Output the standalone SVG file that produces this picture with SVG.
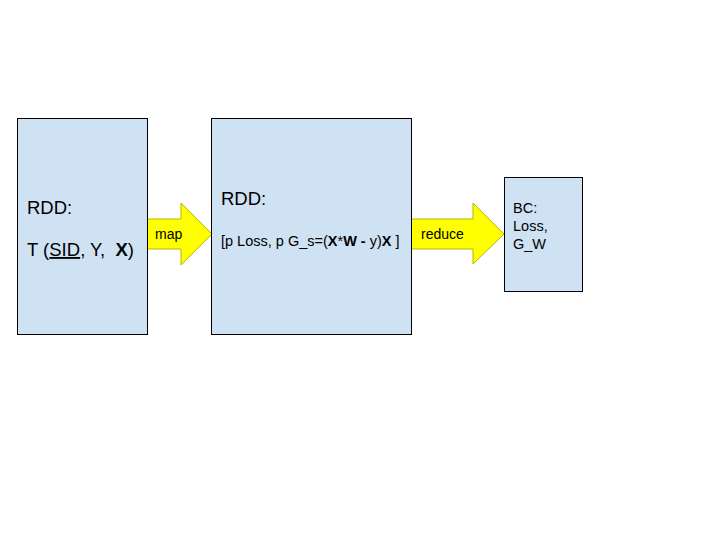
<svg xmlns="http://www.w3.org/2000/svg" width="720" height="540" viewBox="0 0 720 540">
<style>
.box{fill:#cfe2f3;stroke:#000;stroke-width:1}
.arr{fill:#ffff00;stroke:#b5b500;stroke-width:1}
text{font-family:"Liberation Sans",Arial,sans-serif;fill:#000}
.big{font-size:18.5px}
.mid{font-size:14.5px}
.sm{font-size:14px}
</style>
<rect width="720" height="540" fill="#fff"/>
<g id="connectors">
<polygon class="arr" points="147,219 181,219 181,203 212,234 181,265 181,249 147,249"/>
<text class="sm" x="155" y="239">map</text>
<polygon class="arr" points="411,219 473,219 473,203 504,234 473,264 473,249 411,249"/>
<text class="sm" x="421" y="239">reduce</text>
</g>
<g id="node1">
<rect class="box" x="17.5" y="118.5" width="130" height="216"/>
<text class="big" x="27" y="214">RDD:</text>
<text class="big" x="27" y="256" xml:space="preserve">T (<tspan text-decoration="underline">SID</tspan>, Y,  <tspan font-weight="bold">X</tspan>)</text>
</g>
<g id="node2">
<rect class="box" x="211.5" y="118.5" width="200" height="216"/>
<text class="big" x="221" y="205">RDD:</text>
<text x="221" y="246" font-size="14.5">[p Loss, p G_s=(<tspan font-weight="bold">X</tspan>*<tspan font-weight="bold">W</tspan> <tspan font-weight="bold">-</tspan> y)<tspan font-weight="bold">X</tspan> ]</text>
</g>
<g id="node3">
<rect class="box" x="504.5" y="177.5" width="78" height="114"/>
<text class="mid" x="513" y="213">BC:</text>
<text class="mid" x="513" y="231">Loss,</text>
<text class="mid" x="513" y="249">G_W</text>
</g>
</svg>
